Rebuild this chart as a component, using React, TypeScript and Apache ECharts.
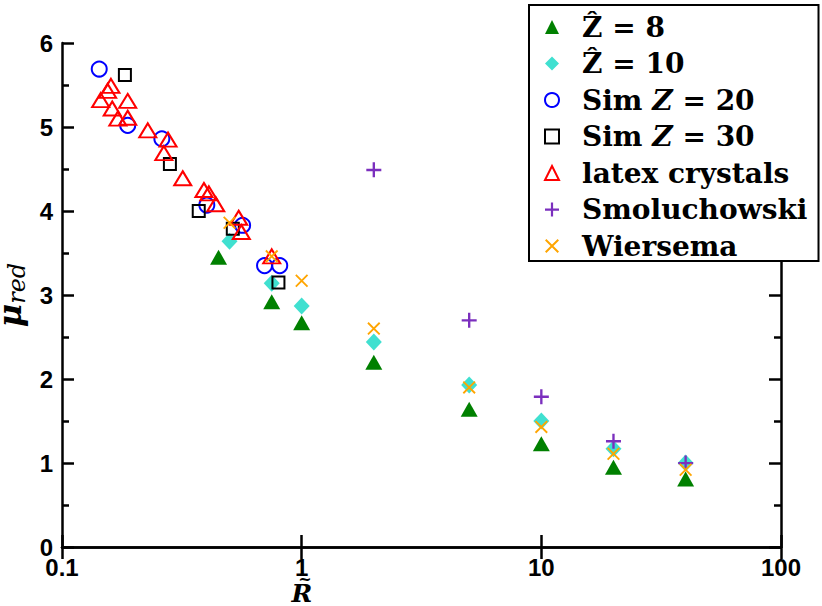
import React, { useEffect, useRef } from "react";
import * as echarts from "echarts";

// ---- data ----
const z8X = [0.45, 0.75, 1, 2, 5, 10, 20, 40];
const z8Y = [3.45, 2.92, 2.67, 2.2, 1.64, 1.23, 0.95, 0.81];
const z10X = [0.5, 0.75, 1, 2, 5, 10, 20, 40];
const z10Y = [3.64, 3.14, 2.87, 2.44, 1.93, 1.5, 1.17, 1.0];
const sim20X = [0.143, 0.188, 0.261, 0.402, 0.567, 0.7, 0.81];
const sim20Y = [5.69, 5.02, 4.86, 4.07, 3.83, 3.35, 3.35];
const sim30X = [0.183, 0.282, 0.372, 0.516, 0.8];
const sim30Y = [5.62, 4.56, 4.0, 3.79, 3.15];
const latexX = [0.16, 0.155, 0.145, 0.188, 0.162, 0.188, 0.171, 0.228, 0.277, 0.266, 0.319, 0.391, 0.41, 0.438, 0.546, 0.56, 0.75];
const latexY = [5.49, 5.43, 5.32, 5.31, 5.22, 5.11, 5.1, 4.96, 4.85, 4.69, 4.39, 4.25, 4.21, 4.08, 3.92, 3.75, 3.46];
const smolX = [2, 5, 10, 20, 40];
const smolY = [4.49, 2.7, 1.79, 1.26, 1.0];
const wierX = [0.5, 0.75, 1, 2, 5, 10, 20, 40];
const wierY = [3.86, 3.46, 3.17, 2.6, 1.9, 1.43, 1.11, 0.92];

const seriesNames = ["Z8", "Z10", "Sim20", "Sim30", "latex crystals", "Smoluchowski", "Wiersema"];
const xTickLabels: Record<string, string> = { "0.1": "0.1", "1": "1", "10": "10", "100": "100" };
const yTicks = [0, 1, 2, 3, 4, 5, 6];

const pairs = (xs: number[], ys: number[]) => xs.map((x, i) => [x, ys[i]]);

const PLUS = "path://M0,6H14V8.2H0Z M5.9,0H8.1V14H5.9Z";
const CROSS = "path://M0,1.2L1.2,0L12,10.8L10.8,12Z M10.8,0L12,1.2L1.2,12L0,10.8Z";

export default function App() {
  const ref = useRef<HTMLDivElement>(null);
  useEffect(() => {
    if (!ref.current) return;
    const chart = echarts.init(ref.current, undefined, { renderer: "svg" });
    const serif = "DejaVu Serif";
    const tickFont = { fontFamily: "Liberation Sans", fontWeight: "bold" as const, fontSize: 24, color: "#000" };
    const axisLine = { show: true, lineStyle: { color: "#000", width: 2.5 } };
    const option: any = {
      animation: false,
      backgroundColor: "#fff",
      grid: { left: 62, right: 41, top: 43, bottom: 59, containLabel: false, outerBoundsMode: "none" },
      xAxis: [
        {
          type: "log", logBase: 10, min: 0.1, max: 100, position: "bottom",
          axisLine,
          axisTick: { inside: true, length: 12, lineStyle: { width: 2.5, color: "#000" } },
          axisLabel: {
            ...tickFont, margin: 8,
            formatter: (v: number) => {
              const k = String(Math.round(v * 10) / 10);
              return xTickLabels[k] ?? k;
            },
          },
          splitLine: { show: false },
          minorTick: { show: false },
        },
        {
          type: "log", logBase: 10, min: 0.1, max: 100, position: "top",
          axisLine,
          axisTick: { inside: true, length: 12, lineStyle: { width: 2.5, color: "#000" } },
          axisLabel: { show: false },
          splitLine: { show: false },
        },
      ],
      yAxis: [
        {
          type: "value", min: 0, max: 6, interval: 1, position: "left",
          axisLine,
          axisTick: { inside: true, length: 12, lineStyle: { width: 2.5, color: "#000" } },
          minorTick: { show: true, splitNumber: 2, length: 7, lineStyle: { width: 2.5, color: "#000" } },
          axisLabel: { ...tickFont, margin: 9, formatter: (v: number) => (yTicks.includes(v) ? String(v) : "") },
          splitLine: { show: false },
          name: "{m|μ}{s|red}",
          nameLocation: "middle",
          nameGap: 31,
          nameRotate: 90,
          nameTextStyle: {
            rich: {
              m: { fontFamily: serif, fontStyle: "italic", fontWeight: "bold", fontSize: 32, lineHeight: 34, color: "#000" },
              s: { fontFamily: serif, fontStyle: "italic", fontWeight: "normal", fontSize: 24, color: "#000", padding: [13, 0, 0, 0] },
            },
          },
        },
        {
          type: "value", min: 0, max: 6, interval: 1, position: "right",
          axisLine,
          axisTick: { inside: true, length: 12, lineStyle: { width: 2.5, color: "#000" } },
          minorTick: { show: true, splitNumber: 2, length: 7, lineStyle: { width: 2.5, color: "#000" } },
          axisLabel: { show: false },
          splitLine: { show: false },
        },
      ],
      legend: {
        orient: "vertical",
        left: 529,
        top: 5,
        backgroundColor: "#fff",
        borderColor: "#000",
        borderWidth: 2,
        borderRadius: 0,
        padding: [7, 11, 0, 15],
        itemWidth: 14,
        itemHeight: 14,
        itemGap: 6.5,
        data: seriesNames,
        formatter: (name: string) => {
          switch (name) {
            case "Z8": return "{t|Ẑ = 8}";
            case "Z10": return "{t|Ẑ = 10}";
            case "Sim20": return "{t|Sim }{i|Z}{t| = 20}";
            case "Sim30": return "{t|Sim }{i|Z}{t| = 30}";
            default: return "{t|" + name + "}";
          }
        },
        textStyle: {
          color: "#000",
          fontFamily: serif,
          fontWeight: "bold",
          fontSize: 28,
          lineHeight: 30,
          padding: [0, 0, 0, 18],
          rich: {
            t: { fontFamily: serif, fontWeight: "bold", fontSize: 28, lineHeight: 30, color: "#000" },
            i: { fontFamily: serif, fontWeight: "bold", fontStyle: "italic", fontSize: 28, lineHeight: 30, color: "#000" },
          },
        },
      },
      graphic: [
        {
          type: "text",
          x: 302,
          y: 593,
          style: {
            text: "R",
            fontFamily: serif,
            fontStyle: "italic",
            fontWeight: "bold",
            fontSize: 25,
            lineHeight: 22,
            fill: "#000",
            align: "center",
            verticalAlign: "middle",
          },
        },
        {
          type: "text",
          x: 305,
          y: 579,
          style: {
            text: "~",
            fontFamily: serif,
            fontWeight: "bold",
            fontSize: 16,
            lineHeight: 6,
            fill: "#000",
            align: "center",
            verticalAlign: "middle",
          },
        },
      ],
      series: [
        {
          name: "Z8", type: "scatter", data: pairs(z8X, z8Y),
          symbol: "triangle", symbolSize: [17, 15],
          itemStyle: { color: "#008000", opacity: 1 },
        },
        {
          name: "Z10", type: "scatter", data: pairs(z10X, z10Y),
          symbol: "diamond", symbolSize: [16, 17],
          itemStyle: { color: "#40e0d0", opacity: 1 },
        },
        {
          name: "Sim20", type: "scatter", data: pairs(sim20X, sim20Y),
          symbol: "circle", symbolSize: 15,
          itemStyle: { color: "rgba(0,0,0,0)", borderColor: "#0000ff", borderWidth: 2, opacity: 1 },
        },
        {
          name: "Sim30", type: "scatter", data: pairs(sim30X, sim30Y),
          symbol: "rect", symbolSize: 12,
          itemStyle: { color: "rgba(0,0,0,0)", borderColor: "#000", borderWidth: 2, opacity: 1 },
        },
        {
          name: "latex crystals", type: "scatter", data: pairs(latexX, latexY),
          symbol: "triangle", symbolSize: [17, 14],
          itemStyle: { color: "rgba(0,0,0,0)", borderColor: "#ff0000", borderWidth: 2, opacity: 1 },
        },
        {
          name: "Smoluchowski", type: "scatter", data: pairs(smolX, smolY),
          symbol: PLUS, symbolSize: 15,
          itemStyle: { color: "#7b2fbe", opacity: 1 },
        },
        {
          name: "Wiersema", type: "scatter", data: pairs(wierX, wierY),
          symbol: CROSS, symbolSize: 13,
          itemStyle: { color: "#ffa500", opacity: 1 },
        },
      ],
    };
    chart.setOption(option);
    return () => chart.dispose();
  }, []);
  return <div ref={ref} style={{ width: 822, height: 606, position: "absolute", left: 0, top: 0 }} />;
}
